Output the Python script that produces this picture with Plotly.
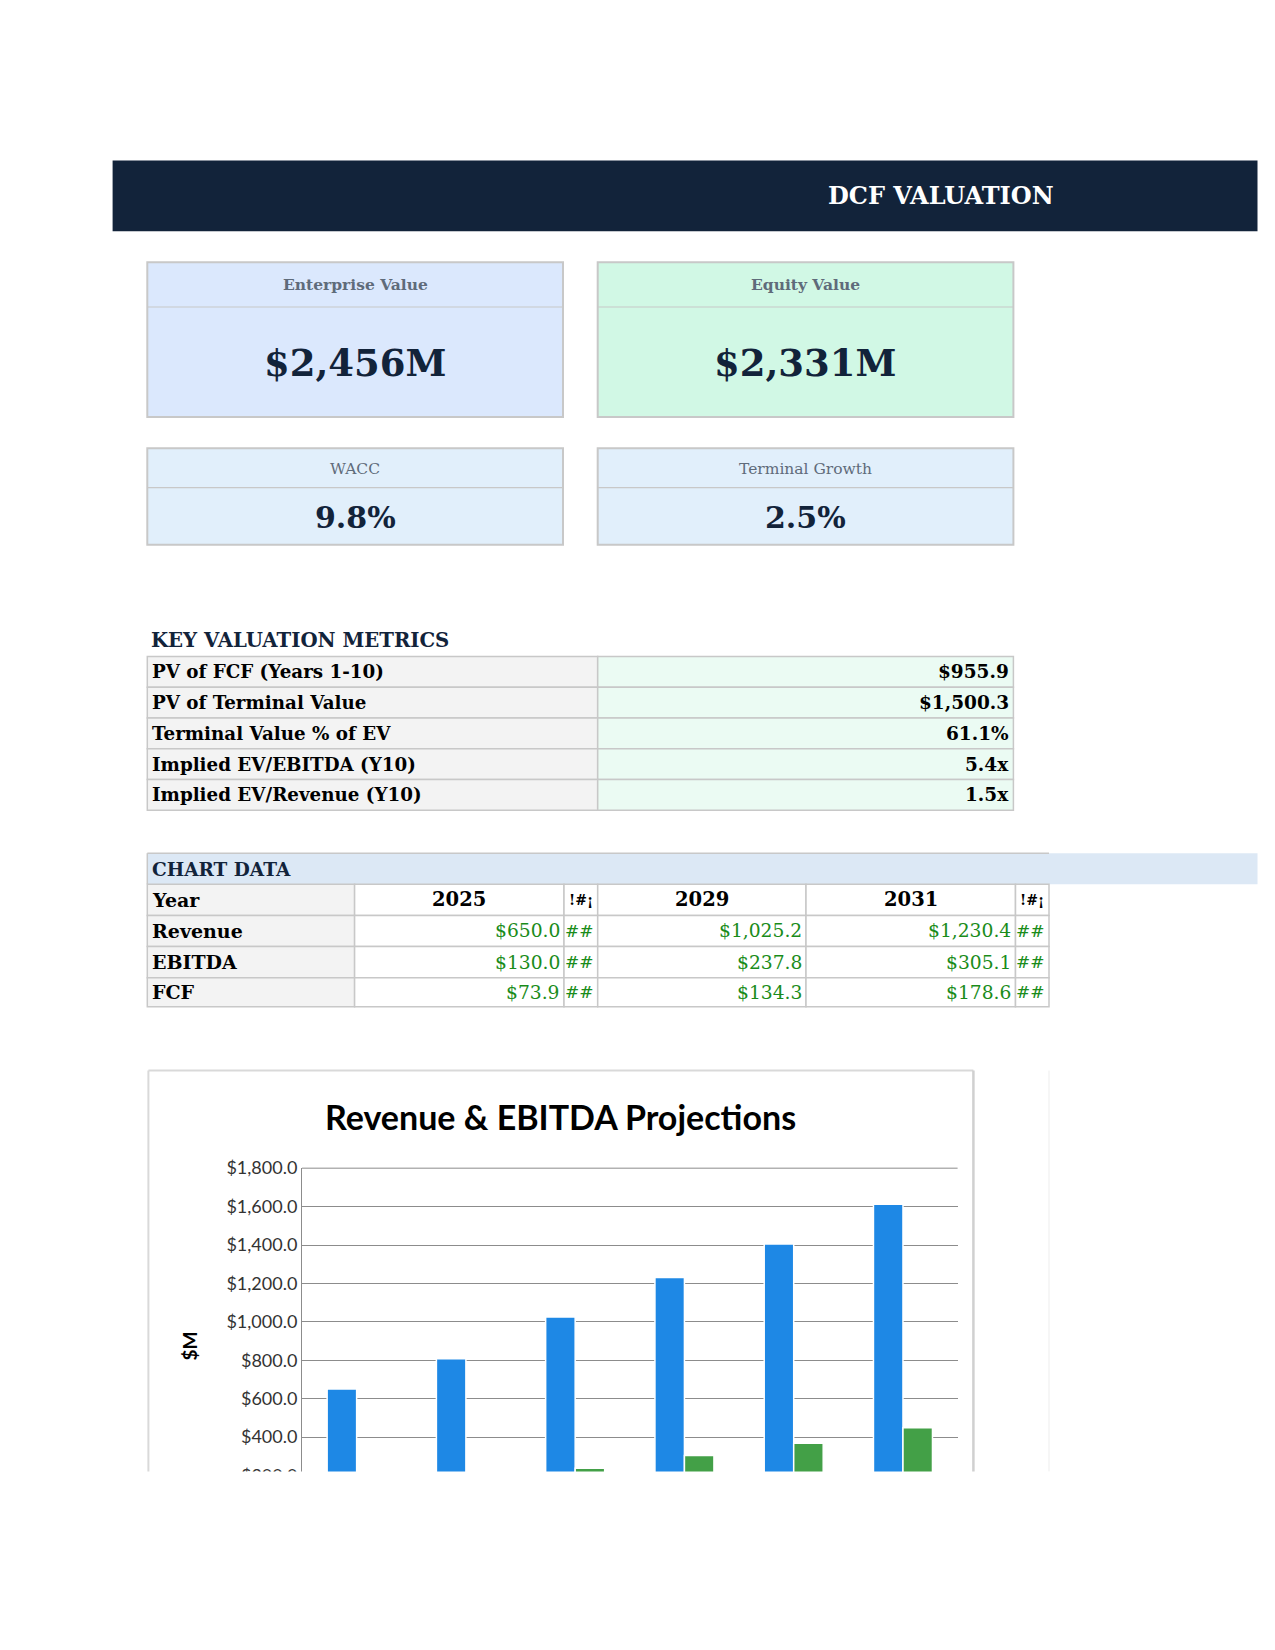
import plotly.graph_objects as go

# ---- data ----
years = ["2025", "2027", "2029", "2031", "2033", "2035"]
revenue = [650.0, 808.0, 1025.2, 1230.4, 1405.0, 1612.0]
ebitda = [130.0, 180.0, 237.8, 305.1, 368.0, 449.0]

kpi_labels = ["Enterprise Value", "Equity Value"]
kpi_values = ["$2,456M", "$2,331M"]
rate_labels = ["WACC", "Terminal Growth"]
rate_values = ["9.8%", "2.5%"]

metric_labels = ["PV of FCF (Years 1-10)", "PV of Terminal Value", "Terminal Value % of EV",
                 "Implied EV/EBITDA (Y10)", "Implied EV/Revenue (Y10)"]
metric_values = ["$955.9", "$1,500.3", "61.1%", "5.4x", "1.5x"]

table_years = ["2025", None, "2029", "2031", None]
fcf_row = [73.9, None, 134.3, 178.6, None]

W, H = 1275, 1650
OFF = 8  # page body margin
NAVY = "#12233A"
BORDER = "#C8C8C8"
SERIF = "DejaVu Serif"


def fx(x):
    return (x - OFF) / W


def fy(y):
    return 1 - (y - OFF) / H


shapes = []
annotations = []


def rect(x0, y0, x1, y1, fill=None, line=None, lw=1.5, layer="below"):
    shapes.append(dict(type="rect", xref="paper", yref="paper",
                       x0=fx(x0), x1=fx(x1), y0=fy(y1), y1=fy(y0),
                       fillcolor=fill or "rgba(0,0,0,0)",
                       line=dict(color=line or "rgba(0,0,0,0)", width=lw if line else 0),
                       layer=layer))


def hline(x0, x1, y, color=BORDER, lw=1.5, layer="below"):
    shapes.append(dict(type="line", xref="paper", yref="paper", x0=fx(x0), x1=fx(x1),
                       y0=fy(y), y1=fy(y), line=dict(color=color, width=lw), layer=layer))


def vline(x, y0, y1, color=BORDER, lw=1.5, layer="below"):
    shapes.append(dict(type="line", xref="paper", yref="paper", x0=fx(x), x1=fx(x),
                       y0=fy(y0), y1=fy(y1), line=dict(color=color, width=lw), layer=layer))


def text(x, y, s, size, color="#000000", bold=False, anchor="center", family=SERIF, angle=0):
    annotations.append(dict(x=fx(x), y=fy(y), xref="paper", yref="paper", text=s,
                            showarrow=False, xanchor=anchor, yanchor="middle", textangle=angle,
                            font=dict(family=family, size=size, color=color,
                                      weight="bold" if bold else "normal")))


# ---- banner ----
rect(112.6, 150.5, 1257.5, 222, fill=NAVY)
text(941, 186, "DCF VALUATION", 24, "#FFFFFF", bold=True)

# ---- KPI cards ----
card_x = [(147.3, 563.0), (597.7, 1013.4)]
card_fill = ["#DBE8FD", "#D1F8E5"]
for (x0, x1), lab, val, fill in zip(card_x, kpi_labels, kpi_values, card_fill):
    rect(x0, 253.6, x1, 410.4, fill=fill, line=BORDER, lw=2)
    hline(x0, x1, 298.9, lw=1.2)
    text((x0 + x1) / 2, 276, lab, 15.5, "#5F6B7A", bold=True)
    text((x0 + x1) / 2, 356, val, 37, NAVY, bold=True)

for (x0, x1), lab, val in zip(card_x, rate_labels, rate_values):
    rect(x0, 442, x1, 539.8, fill="#E1EFFB", line=BORDER, lw=2)
    hline(x0, x1, 482, lw=1.2)
    text((x0 + x1) / 2, 463, lab, 15.5, "#5F6B7A")
    text((x0 + x1) / 2, 512.5, val, 30, NAVY, bold=True)

# ---- key valuation metrics ----
text(149.4, 637, "KEY VALUATION METRICS", 19.7, NAVY, bold=True, anchor="left")
row_h = 31.2
top = 653
for i, (lab, val) in enumerate(zip(metric_labels, metric_values)):
    y0 = top + i * row_h
    rect(147.3, y0, 597.7, y0 + row_h, fill="#F3F3F3", line=BORDER)
    rect(597.7, y0, 1013.4, y0 + row_h, fill="#EBFBF3", line=BORDER)
    text(149.5, y0 + row_h / 2, lab, 18.3, "#000000", bold=True, anchor="left")
    text(1011, y0 + row_h / 2, val, 18.5, "#000000", bold=True, anchor="right")

# ---- chart data table ----
rect(147.3, 852.4, 1257.5, 884, fill="#DCE8F5")
hline(147.3, 1049, 852.4)
vline(147.3, 852.4, 884)
text(149.5, 868.5, "CHART DATA", 18.5, NAVY, bold=True, anchor="left")

col_x = [147.3, 354.6, 564.0, 597.7, 806.0, 1015.5, 1049.0]
row_y = [884, 915.5, 947, 978.6, 1008]
row_names = ["Year", "Revenue", "EBITDA", "FCF"]
green = "#1A8C1A"
for r, name in enumerate(row_names):
    y0, y1 = row_y[r], row_y[r + 1]
    ym = (y0 + y1) / 2
    rect(col_x[0], y0, col_x[1], y1, fill="#F3F3F3", line=BORDER)
    text(149.5, ym, name, 19, "#000000", bold=True, anchor="left")
    for c, yr in enumerate(table_years):
        x0, x1 = col_x[c + 1], col_x[c + 2]
        rect(x0, y0, x1, y1, fill="#FFFFFF", line=BORDER)
        if r == 0:
            s = yr if yr else "!#¡"
            text((x0 + x1) / 2, ym, s, 19.5 if yr else 14, "#000000", bold=True)
            continue
        if yr is None:
            text(x1 - 2, ym, "##", 17, green, anchor="right")
            continue
        idx = years.index(yr)
        if name == "Revenue":
            v = revenue[idx]
        elif name == "EBITDA":
            v = ebitda[idx]
        else:
            v = fcf_row[c]
        text(x1 - 2.5, ym, f"${v:,.1f}", 18.7, green, anchor="right")

# ---- chart ----
fig = go.Figure()
fig.add_trace(go.Bar(x=years, y=revenue, name="Revenue", marker=dict(color="#1E88E5",
                     line=dict(color="#FFFFFF", width=1.5))))
fig.add_trace(go.Bar(x=years, y=ebitda, name="EBITDA", marker=dict(color="#43A047",
                     line=dict(color="#FFFFFF", width=1.5))))

plot_left, plot_right, plot_top, plot_bottom = 302, 957.6, 1171.7, 1522.2

# top gridline at $1,800
hline(plot_left, plot_right, plot_top, color="#8C8C8C", lw=1)

# chart is cut off at the bottom of the page region
rect(140, 1479, 1060, 1660, fill="#FFFFFF", layer="above")
hline(148.4, 973.4, 1072.7, color="#D9D9D9", lw=2, layer="above")
vline(148.4, 1072.7, 1479, color="#D9D9D9", lw=2, layer="above")
vline(973.4, 1072.7, 1479, color="#D0D0D0", lw=2.5, layer="above")
vline(1049, 1072.7, 1479, color="#EDEDED", lw=1, layer="above")

text(560, 1119, "Revenue &amp; EBITDA Projections", 34, "#000000", bold=True, family="Lato")
text(189.4, 1352, "$M", 19, "#000000", bold=True, family="Lato", angle=-90)

fig.update_layout(
    width=W, height=H, autosize=False,
    margin=dict(l=0, r=0, t=0, b=0),
    paper_bgcolor="#FFFFFF", plot_bgcolor="#FFFFFF",
    showlegend=False,
    barmode="group", bargap=0.46, bargroupgap=0.0,
    xaxis=dict(domain=[fx(plot_left), fx(plot_right)], showticklabels=False, showgrid=False,
               zeroline=False, showline=False, ticks=""),
    yaxis=dict(domain=[fy(plot_bottom), fy(plot_top)], range=[0, 1800], dtick=200,
               tickformat="$,.1f", showgrid=True, gridcolor="#8C8C8C", gridwidth=1,
               zeroline=False, showline=True, linecolor="#8C8C8C", linewidth=1,
               ticks="", tickfont=dict(family="Lato", size=18, color="#333333")),
    shapes=shapes,
    annotations=annotations,
)

fig.write_html("out.html")
